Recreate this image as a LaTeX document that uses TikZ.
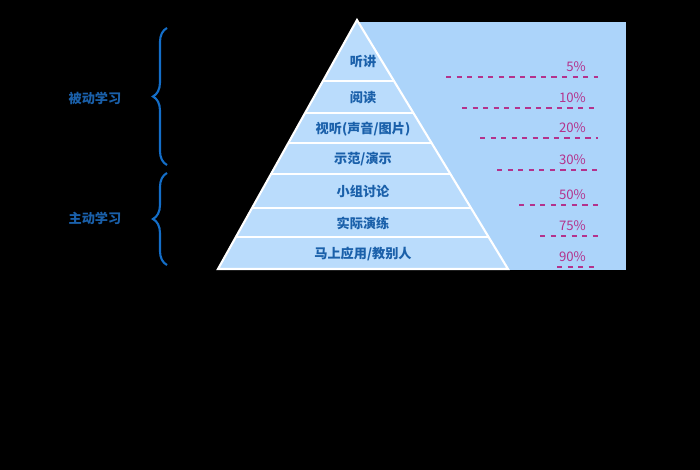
\documentclass[tikz,border=0pt]{standalone}
\usepackage{fontspec}
\setmainfont{Noto Sans CJK SC}
\usepackage{tikz}
\usetikzlibrary{decorations.pathreplacing}
\definecolor{panelblue}{RGB}{172,212,250}
\definecolor{bandblue}{RGB}{186,220,252}
\definecolor{textblue}{RGB}{26,96,170}
\definecolor{bracblue}{RGB}{20,110,200}
\definecolor{pctpink}{RGB}{180,50,140}

\begin{document}
\begin{tikzpicture}[x=0.02cm, y=-0.02cm,
  band/.style={font=\bfseries\fontsize{7.5}{9}\selectfont, text=textblue},
  pct/.style={font=\fontsize{7.5}{9}\selectfont, text=pctpink},
  grp/.style={font=\bfseries\fontsize{7.5}{9}\selectfont, text=textblue},
  tick/.style={draw=pctpink, dashed, thick},
  brc/.style={draw=bracblue, very thick, decorate,
    decoration={brace, amplitude=8pt}}
]
\fill[black] (0,0) rectangle (700,470);
\useasboundingbox (0,0) rectangle (700,470);

% panel and pyramid
\fill[panelblue] (358,22) rectangle (626,270);
\fill[bandblue, draw=white, very thick] (357,20) -- (508,269) -- (218,269) -- cycle;
\foreach \yy/\xl/\xr in {81/322.9/394, 113/305.1/413.4, 143/288.3/431.6,
  174/271/450.4, 208/252/471, 237/235.9/488.6}
  \draw[white, very thick] (\xl,\yy) -- (\xr,\yy);

% levels
\node[band] (l1) at (363,62) {听讲};
\node[band] (l2) at (363,98) {阅读};
\node[band] (l3) at (363,129) {视听(声音/图片)};
\node[band] (l4) at (363,159) {示范/演示};
\node[band] (l5) at (363,191) {小组讨论};
\node[band] (l6) at (363,223) {实际演练};
\node[band] (l7) at (363,254) {马上应用/教别人};

% rates
\foreach \n/\t/\yy/\xs in {1/5\%/67/446, 2/10\%/98/462, 3/20\%/128/480,
  4/30\%/160/497, 5/50\%/195/519, 6/75\%/226/540, 7/90\%/257/557} {
  \node[pct, anchor=east] (p\n) at (592,\yy) {\t};
  \coordinate (a\n) at (\xs,\yy+10);
  \coordinate (b\n) at (598,\yy+10);
  \draw[tick] (a\n) -- (b\n);
}

% groups
\coordinate (bt1) at (167,28);
\coordinate (bb1) at (167,165);
\coordinate (bt2) at (167,173);
\coordinate (bb2) at (167,265);
\draw[brc] (bb1) -- (bt1);
\draw[brc] (bb2) -- (bt2);
\node[grp] (passive) at (95,98) {被动学习};
\node[grp] (active) at (95,218) {主动学习};
\end{tikzpicture}
\end{document}
